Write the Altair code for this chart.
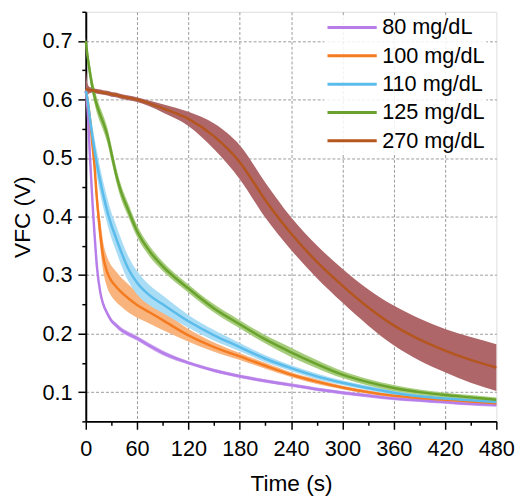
import altair as alt
import pandas as pd

FONT = "Liberation Sans"

SERIES = ["80 mg/dL", "100 mg/dL", "110 mg/dL", "125 mg/dL", "270 mg/dL"]
LINE_COLORS = ["#B77EEA", "#F47B20", "#5BBCEB", "#6AA22E", "#B4561E"]
BAND_COLORS = ["#CDA8F2", "#F9B47E", "#A9DCF5", "#A6CC7C", "#AE6668"]

T = [0, 2, 5, 8, 10, 13, 17, 20, 25, 30, 35, 40, 50, 60, 75, 90, 120, 150, 180, 210, 240, 270, 300, 330, 360, 390, 420, 450, 480]

V80 = [0.615, 0.585, 0.50, 0.42, 0.375, 0.315, 0.27, 0.252, 0.235, 0.222, 0.215, 0.208, 0.199, 0.192, 0.179, 0.167, 0.150, 0.137, 0.127, 0.119, 0.112, 0.105, 0.099, 0.094, 0.089, 0.086, 0.083, 0.080, 0.078]
V100 = [0.615, 0.60, 0.565, 0.52, 0.49, 0.43, 0.37, 0.335, 0.305, 0.29, 0.281, 0.273, 0.26, 0.249, 0.236, 0.223, 0.197, 0.177, 0.161, 0.145, 0.130, 0.118, 0.108, 0.100, 0.094, 0.090, 0.087, 0.084, 0.081]
V110 = [0.615, 0.60, 0.565, 0.535, 0.515, 0.49, 0.46, 0.44, 0.41, 0.385, 0.365, 0.345, 0.31, 0.287, 0.265, 0.25, 0.221, 0.197, 0.177, 0.157, 0.141, 0.127, 0.116, 0.107, 0.099, 0.093, 0.089, 0.086, 0.083]
V125 = [0.70, 0.675, 0.645, 0.62, 0.607, 0.59, 0.573, 0.562, 0.54, 0.508, 0.475, 0.448, 0.41, 0.375, 0.34, 0.315, 0.277, 0.243, 0.216, 0.19, 0.168, 0.148, 0.130, 0.117, 0.107, 0.100, 0.095, 0.091, 0.087]
V270 = [0.618, 0.617, 0.616, 0.616, 0.615, 0.614, 0.613, 0.612, 0.611, 0.609, 0.608, 0.606, 0.603, 0.600, 0.593, 0.585, 0.567, 0.537, 0.493, 0.428, 0.371, 0.323, 0.282, 0.245, 0.214, 0.19, 0.171, 0.155, 0.142]

# half-widths of the shaded bands
E80 = [0.003, 0.004, 0.005, 0.005, 0.005, 0.005, 0.004, 0.004, 0.004, 0.004, 0.004, 0.004, 0.004, 0.004, 0.004, 0.004, 0.003, 0.003, 0.003, 0.003, 0.003, 0.003, 0.003, 0.003, 0.003, 0.003, 0.003, 0.003, 0.003]
E100 = [0.004, 0.006, 0.008, 0.012, 0.015, 0.02, 0.024, 0.025, 0.026, 0.026, 0.026, 0.025, 0.024, 0.022, 0.019, 0.017, 0.011, 0.008, 0.006, 0.005, 0.004, 0.004, 0.003, 0.003, 0.003, 0.003, 0.003, 0.003, 0.003]
E110 = [0.004, 0.01, 0.015, 0.018, 0.02, 0.022, 0.022, 0.022, 0.022, 0.022, 0.022, 0.022, 0.021, 0.02, 0.017, 0.015, 0.011, 0.009, 0.007, 0.006, 0.005, 0.005, 0.004, 0.004, 0.004, 0.003, 0.003, 0.003, 0.003]
E125 = [0.006, 0.012, 0.014, 0.013, 0.013, 0.013, 0.013, 0.013, 0.013, 0.013, 0.012, 0.012, 0.011, 0.01, 0.009, 0.008, 0.007, 0.007, 0.007, 0.007, 0.008, 0.007, 0.006, 0.0055, 0.005, 0.0045, 0.004, 0.004, 0.004]
E270 = [0.035, 0.01, 0.005, 0.004, 0.004, 0.004, 0.004, 0.004, 0.004, 0.004, 0.004, 0.004, 0.004, 0.004, 0.005, 0.007, 0.012, 0.022, 0.029, 0.03, 0.028, 0.028, 0.029, 0.031, 0.034, 0.036, 0.037, 0.039, 0.04]

X_TICKS = list(range(0, 481, 30))
Y_TICKS = [round(0.05 * k, 2) for k in range(1, 16)]

rows = []
for name, vals, errs in zip(SERIES, [V80, V100, V110, V125, V270], [E80, E100, E110, E125, E270]):
    for t, v, e in zip(T, vals, errs):
        rows.append({"series": name, "band": name, "t": t, "v": v, "lo": v - e, "hi": v + e})
df = pd.DataFrame(rows)

xscale = alt.Scale(domain=[0, 480], nice=False, zero=False)
yscale = alt.Scale(domain=[0.05, 0.75], nice=False, zero=False)

common = dict(
    domainColor="black", domainWidth=2, tickColor="black", tickWidth=1.5,
    labelFont=FONT, labelFontSize=22, labelColor="black",
    titleFont=FONT, titleFontSize=23, titleFontWeight="normal", titleColor="black",
    grid=True, gridDash=[3, 2], gridColor="#9a9a9a", gridWidth=1,
    labelOverlap=False, labelFlush=False,
)

xaxis = alt.Axis(
    values=X_TICKS,
    labelExpr="datum.value % 60 === 0 ? datum.label : ''",
    tickSize={"condition": {"test": "datum.value % 60 !== 0", "value": 4}, "value": 8},
    gridOpacity={"condition": {"test": "datum.value % 60 !== 0 || datum.value === 0 || datum.value === 480", "value": 0}, "value": 1},
    labelPadding=10, titlePadding=13,
    **common,
)
yaxis = alt.Axis(
    values=Y_TICKS,
    labelExpr="round(datum.value * 100) % 10 === 0 ? format(datum.value, '.1f') : ''",
    tickSize={"condition": {"test": "round(datum.value * 100) % 10 !== 0", "value": 4}, "value": 8},
    gridOpacity={"condition": {"test": "round(datum.value * 100) % 10 !== 0", "value": 0}, "value": 1},
    labelPadding=6, titlePadding=8,
    **common,
)

base = alt.Chart(df)

band = base.mark_area(interpolate="monotone", opacity=1).encode(
    x=alt.X("t:Q", scale=xscale, axis=xaxis, title="Time (s)"),
    y=alt.Y("lo:Q", scale=yscale, axis=yaxis, title="VFC (V)"),
    y2="hi:Q",
    fill=alt.Fill("band:N", scale=alt.Scale(domain=SERIES, range=BAND_COLORS), legend=None),
)

line = base.mark_line(interpolate="monotone", strokeWidth=2.5).encode(
    x=alt.X("t:Q", scale=xscale, axis=xaxis, title="Time (s)"),
    y=alt.Y("v:Q", scale=yscale, axis=yaxis, title="VFC (V)"),
    stroke=alt.Stroke(
        "series:N",
        scale=alt.Scale(domain=SERIES, range=LINE_COLORS),
        legend=alt.Legend(
            title=None, orient="none", legendX=242, legendY=4,
            symbolType="stroke", symbolSize=2500, symbolStrokeWidth=3,
            clipHeight=20, rowPadding=6.75, labelOffset=4,
            labelFont=FONT, labelFontSize=22, labelColor="black",
            padding=2, fillColor="rgba(255,255,255,0.85)",
        ),
    ),
)

chart = alt.layer(band, line).resolve_legend(fill="independent", stroke="independent").properties(
    width=417, height=416,
    autosize=alt.AutoSizeParams(type="none"),
    padding={"left": 79, "top": 0, "right": 23, "bottom": 75},
).configure_view(stroke="#666666", strokeWidth=1).configure(background="white")

chart.save("out.html", embed_options={"renderer": "svg", "actions": False})
